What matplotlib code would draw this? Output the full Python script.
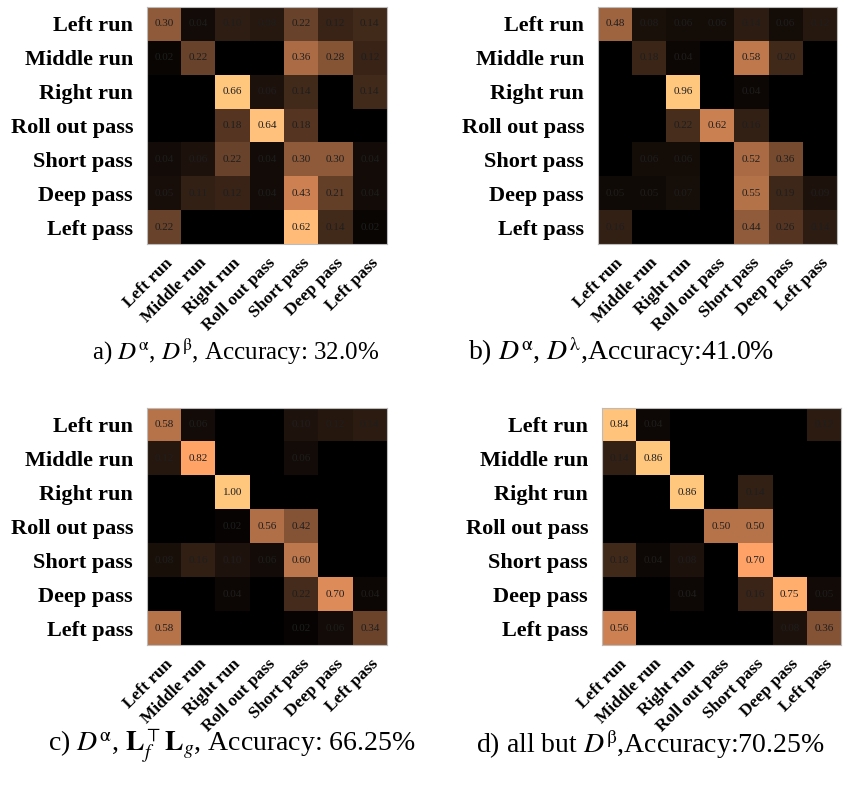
import numpy as np
import matplotlib
matplotlib.use("Agg")
import matplotlib.pyplot as plt

plt.rcParams['font.family'] = ['Liberation Serif', 'DejaVu Serif']
plt.rcParams['mathtext.fontset'] = 'stix'

classes = ["Left run", "Middle run", "Right run", "Roll out pass",
           "Short pass", "Deep pass", "Left pass"]

cm_a = [
    [0.30, 0.04, 0.10, 0.08, 0.22, 0.12, 0.14],
    [0.02, 0.22, 0.00, 0.00, 0.36, 0.28, 0.12],
    [0.00, 0.00, 0.66, 0.06, 0.14, 0.00, 0.14],
    [0.00, 0.00, 0.18, 0.64, 0.18, 0.00, 0.00],
    [0.04, 0.06, 0.22, 0.04, 0.30, 0.30, 0.04],
    [0.05, 0.11, 0.12, 0.04, 0.43, 0.21, 0.04],
    [0.22, 0.00, 0.00, 0.00, 0.62, 0.14, 0.02],
]
cm_b = [
    [0.48, 0.08, 0.06, 0.06, 0.14, 0.06, 0.12],
    [0.00, 0.18, 0.04, 0.00, 0.58, 0.20, 0.00],
    [0.00, 0.00, 0.96, 0.00, 0.04, 0.00, 0.00],
    [0.00, 0.00, 0.22, 0.62, 0.16, 0.00, 0.00],
    [0.00, 0.06, 0.06, 0.00, 0.52, 0.36, 0.00],
    [0.05, 0.05, 0.07, 0.00, 0.55, 0.19, 0.09],
    [0.16, 0.00, 0.00, 0.00, 0.44, 0.26, 0.14],
]
cm_c = [
    [0.58, 0.06, 0.00, 0.00, 0.10, 0.12, 0.14],
    [0.12, 0.82, 0.00, 0.00, 0.06, 0.00, 0.00],
    [0.00, 0.00, 1.00, 0.00, 0.00, 0.00, 0.00],
    [0.00, 0.00, 0.02, 0.56, 0.42, 0.00, 0.00],
    [0.08, 0.16, 0.10, 0.06, 0.60, 0.00, 0.00],
    [0.00, 0.00, 0.04, 0.00, 0.22, 0.70, 0.04],
    [0.58, 0.00, 0.00, 0.00, 0.02, 0.06, 0.34],
]
cm_d = [
    [0.84, 0.04, 0.00, 0.00, 0.00, 0.00, 0.12],
    [0.14, 0.86, 0.00, 0.00, 0.00, 0.00, 0.00],
    [0.00, 0.00, 0.86, 0.00, 0.14, 0.00, 0.00],
    [0.00, 0.00, 0.00, 0.50, 0.50, 0.00, 0.00],
    [0.18, 0.04, 0.08, 0.00, 0.70, 0.00, 0.00],
    [0.00, 0.00, 0.04, 0.00, 0.16, 0.75, 0.05],
    [0.56, 0.00, 0.00, 0.00, 0.00, 0.08, 0.36],
]

captions = [
    r"a) $D^{\mathrm{\alpha}}$, $D^{\mathrm{\beta}}$, Accuracy: 32.0%",
    r"b) $D^{\mathrm{\alpha}}$, $D^{\mathrm{\lambda}}$,Accuracy:41.0%",
    r"c) $D^{\mathrm{\alpha}}$, $\mathbf{L}_f^{\top}\mathbf{L}_g$, Accuracy: 66.25%",
    r"d) all but $D^{\mathrm{\beta}}$,Accuracy:70.25%",
]

W, H = 854, 787
fig = plt.figure(figsize=(W / 100, H / 100), dpi=100)

# axes boxes in pixels: left, top, right, bottom
boxes = [(147, 7, 387, 244), (598, 7, 837, 244),
         (147, 408, 387, 645), (602, 408, 841, 645)]
cap_pos = [(236, 352), (621, 352), (232, 745), (650, 745)]
cap_size = [18, 20, 20, 20]

for cm, box, cap, cp, cs in zip([cm_a, cm_b, cm_c, cm_d], boxes, captions,
                                cap_pos, cap_size):
    l, t, r, b = box
    ax = fig.add_axes([l / W, 1 - b / H, (r - l) / W, (b - t) / H])
    m = np.array(cm)
    ax.imshow(m, cmap='copper', vmin=0, vmax=m.max(), aspect='auto',
              interpolation='nearest')
    for i in range(m.shape[0]):
        for j in range(m.shape[1]):
            if m[i, j] > 0:
                ax.text(j, i, f"{m[i, j]:.2f}", ha='center', va='center',
                        fontsize=8, color='#1e1e1e')
    ax.set_xticks(range(len(classes)))
    ax.set_yticks(range(len(classes)))
    ax.set_xticklabels(classes, rotation=45, ha='right', rotation_mode='anchor',
                       fontsize=12.5, fontweight='bold')
    ax.set_yticklabels(classes, fontsize=16, fontweight='bold')
    ax.tick_params(axis='x', length=0, pad=8)
    ax.tick_params(axis='y', length=0, pad=10)
    for s in ax.spines.values():
        s.set_color('#bbbbbb')
        s.set_linewidth(0.8)
    fig.text(cp[0] / W, 1 - cp[1] / H, cap, ha='center', va='center',
             fontsize=cs)

fig.savefig("out.png", dpi=100)
